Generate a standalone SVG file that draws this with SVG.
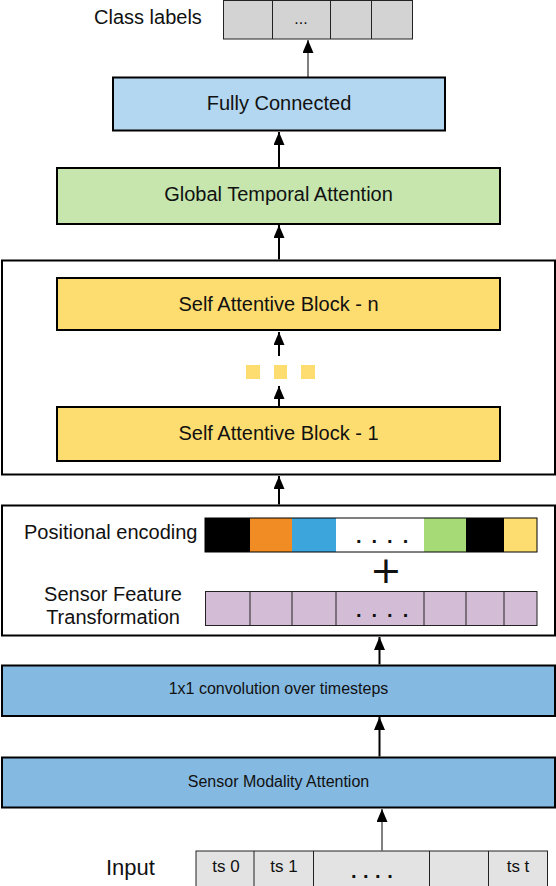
<svg xmlns="http://www.w3.org/2000/svg" width="556" height="886" viewBox="0 0 556 886">
<defs>
<marker id="ah" markerUnits="userSpaceOnUse" viewBox="0 0 13 11" refX="13" refY="5.5" markerWidth="13" markerHeight="11" orient="auto">
<path d="M0,0 L13,5.5 L0,11 z" fill="#000"/>
</marker>
</defs>
<style>
text{font-family:"Liberation Sans",Arial,sans-serif;fill:#111;}
.lbl{font-size:20px;}
.big{font-size:20px;text-anchor:middle;}
.mid{font-size:16px;text-anchor:middle;}
.box{stroke:#000;stroke-width:2;}
.cell{stroke:#222;stroke-width:1;}
.thick{stroke:#000;stroke-width:2;fill:none;marker-end:url(#ah);}
.thin{stroke:#000;stroke-width:1;fill:none;marker-end:url(#ah);}
.dots{font-size:20px;font-weight:bold;letter-spacing:10px;}
</style>

<g id="class-labels">
<text class="lbl" x="94" y="24">Class labels</text>
<rect class="cell" x="223.5" y="0.5" width="189" height="38.5" fill="#d3d3d3"/>
<line class="cell" x1="272.5" y1="0.5" x2="272.5" y2="39"/>
<line class="cell" x1="330.5" y1="0.5" x2="330.5" y2="39"/>
<line class="cell" x1="371.5" y1="0.5" x2="371.5" y2="39"/>
<text x="301" y="24" style="font-size:16px;text-anchor:middle">...</text>
</g>

<g id="fully-connected">
<rect class="box" x="113" y="77.5" width="332" height="53" fill="#b3d7f0"/>
<text class="big" x="279" y="110">Fully Connected</text>
</g>

<g id="global-temporal-attention">
<rect class="box" x="57" y="168" width="443" height="56" fill="#c6e6ae"/>
<text class="big" x="278.5" y="201">Global Temporal Attention</text>
</g>

<g id="self-attention-stack">
<rect class="box" x="2" y="260.5" width="553" height="214" fill="none"/>
</g>

<g id="self-attentive-block-n">
<rect class="box" x="57" y="278" width="443" height="52" fill="#fddd70"/>
<text class="big" x="278.5" y="311">Self Attentive Block - n</text>
</g>

<g id="ellipsis-squares">
<rect x="246" y="365" width="14" height="14" fill="#fddd70"/>
<rect x="274" y="365" width="13" height="14" fill="#fddd70"/>
<rect x="301" y="365" width="14" height="14" fill="#fddd70"/>
</g>

<g id="self-attentive-block-1">
<rect class="box" x="57" y="407" width="443" height="54" fill="#fddd70"/>
<text class="big" x="278.5" y="440">Self Attentive Block - 1</text>
</g>

<g id="embedding-block">
<rect class="box" x="2" y="505.5" width="553" height="130" fill="none"/>
<text class="lbl" x="24" y="539">Positional encoding</text>
<text class="big" x="113" y="601">Sensor Feature</text>
<text class="big" x="113" y="624">Transformation</text>
</g>

<g id="positional-encoding">
<rect x="205" y="518" width="45" height="34" fill="#000"/>
<rect x="250" y="518" width="42" height="34" fill="#f08c23"/>
<rect x="292" y="518" width="44" height="34" fill="#3ba5dc"/>
<rect x="336" y="518" width="88" height="34" fill="#fff"/>
<rect x="424" y="518" width="42" height="34" fill="#a6da76"/>
<rect x="466" y="518" width="38" height="34" fill="#000"/>
<rect x="504" y="518" width="33" height="34" fill="#fddd70"/>
<rect x="205" y="518" width="332" height="34" fill="none" stroke="#000" stroke-width="1"/>
<text class="dots" x="356" y="543">....</text>
</g>

<g id="plus">
<text x="386" y="583" style="font-family:'DejaVu Sans',sans-serif;font-size:38px;text-anchor:middle">+</text>
</g>

<g id="sensor-feature-transformation">
<rect class="cell" x="205.5" y="591.5" width="331.5" height="34" fill="#d3bcd5"/>
<line class="cell" x1="250" y1="591.5" x2="250" y2="625.5"/>
<line class="cell" x1="292" y1="591.5" x2="292" y2="625.5"/>
<line class="cell" x1="336" y1="591.5" x2="336" y2="625.5"/>
<line class="cell" x1="424" y1="591.5" x2="424" y2="625.5"/>
<line class="cell" x1="466" y1="591.5" x2="466" y2="625.5"/>
<line class="cell" x1="504" y1="591.5" x2="504" y2="625.5"/>
<text class="dots" x="356" y="617">....</text>
</g>

<g id="conv-1x1">
<rect class="box" x="2" y="665.5" width="553" height="50.5" fill="#84b9e2"/>
<text class="mid" x="278.5" y="694">1x1 convolution over timesteps</text>
</g>

<g id="sensor-modality-attention">
<rect class="box" x="2" y="757.5" width="553" height="50" fill="#84b9e2"/>
<text class="mid" x="278.5" y="787">Sensor Modality Attention</text>
</g>

<g id="input">
<text x="106" y="875" style="font-size:22px">Input</text>
<rect class="cell" x="196" y="851" width="351.5" height="40" fill="#e3e3e3"/>
<line class="cell" x1="254" y1="851" x2="254" y2="886"/>
<line class="cell" x1="313.5" y1="851" x2="313.5" y2="886"/>
<line class="cell" x1="429.5" y1="851" x2="429.5" y2="886"/>
<line class="cell" x1="488.5" y1="851" x2="488.5" y2="886"/>
<text x="226" y="872" style="font-size:17px;text-anchor:middle">ts 0</text>
<text x="284" y="872" style="font-size:17px;text-anchor:middle">ts 1</text>
<text x="518" y="872" style="font-size:17px;text-anchor:middle">ts t</text>
<text class="dots" x="351" y="878" style="letter-spacing:6.5px">....</text>
</g>

<g id="connectors">
<line class="thin" x1="308" y1="77" x2="308" y2="40"/>
<line class="thick" x1="279" y1="167" x2="279" y2="132"/>
<line class="thick" x1="279" y1="259.5" x2="279" y2="225"/>
<line class="thick" x1="279" y1="356" x2="279" y2="332"/>
<line class="thick" x1="279" y1="406" x2="279" y2="386"/>
<line class="thick" x1="279" y1="504.5" x2="279" y2="476"/>
<line class="thick" x1="379.5" y1="664.5" x2="379.5" y2="637"/>
<line class="thick" x1="379.5" y1="756.5" x2="379.5" y2="717"/>
<line class="thin" x1="382" y1="850.5" x2="382" y2="809"/>
</g>
</svg>
